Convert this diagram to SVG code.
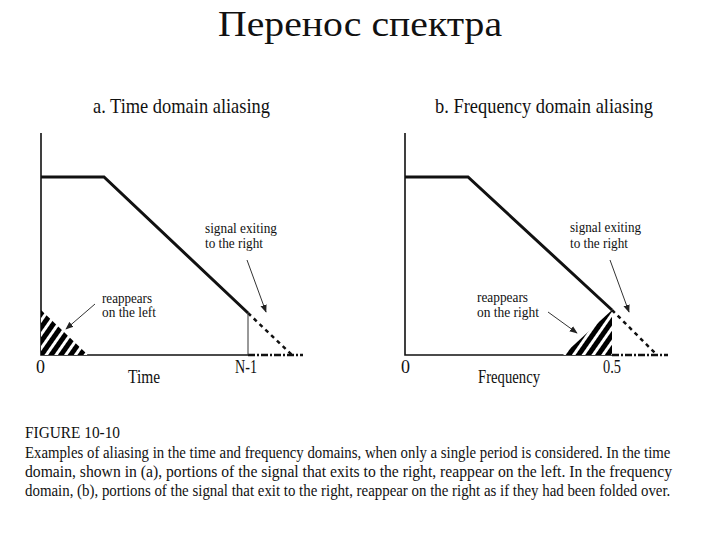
<svg xmlns="http://www.w3.org/2000/svg" width="720" height="540" viewBox="0 0 720 540">
<defs>
<style>
text{font-family:"Liberation Serif","Times New Roman",serif;fill:#111}
.title{font-size:36px}
.ptitle{font-size:22px}
.lbl{font-size:18px}
.ann{font-size:14px}
.cap{font-size:17px}
.axis{stroke:#111;stroke-width:1.6;fill:none}
.sig{stroke:#111;stroke-width:3;fill:none}
.dash{stroke:#111;stroke-width:2.5;stroke-dasharray:4 4;fill:none}
.dot{stroke:#111;stroke-width:2.5;stroke-dasharray:7 2 2 2;fill:none}
.thin{stroke:#333;stroke-width:1;fill:none}
.arr{stroke:#333;stroke-width:1;fill:none;marker-end:url(#ah)}
.hatch{fill:url(#stripes)}
</style>
<pattern id="stripes" patternUnits="userSpaceOnUse" width="8" height="8" patternTransform="rotate(35)">
<rect width="8" height="8" fill="#000"/>
<rect x="0" width="3" height="8" fill="#fff"/>
</pattern>
<marker id="ah" viewBox="0 0 10 10" refX="9" refY="5" markerWidth="8" markerHeight="8" orient="auto" markerUnits="userSpaceOnUse">
<path d="M0,1 L10,5 L0,9 Z" fill="#222"/>
</marker>
</defs>
<rect width="720" height="540" fill="#fff"/>
<text class="title" x="360" y="36" text-anchor="middle" textLength="284" lengthAdjust="spacingAndGlyphs">Перенос спектра</text>

<g id="panel-a">
<text class="ptitle" x="93" y="113" textLength="177" lengthAdjust="spacingAndGlyphs">a. Time domain aliasing</text>
<path class="axis" d="M41,133 V355 H248"/>
<path class="dot" d="M248,355 H303"/>
<polygon class="hatch" points="41,310 41,355 88,355"/>
<path class="sig" d="M41,177 H104 L248,313"/>
<path class="dash" d="M248,313 L292,355"/>
<path class="thin" d="M248,313 V355"/>
<text class="lbl" x="36" y="373" textLength="9" lengthAdjust="spacingAndGlyphs">0</text>
<text class="lbl" x="128" y="383" textLength="32" lengthAdjust="spacingAndGlyphs">Time</text>
<text class="lbl" x="235" y="373" textLength="22" lengthAdjust="spacingAndGlyphs">N-1</text>
</g>
<g id="label-a-exit">
<text class="ann" x="205" y="233" textLength="72" lengthAdjust="spacingAndGlyphs">signal exiting</text>
<text class="ann" x="205" y="248" textLength="58" lengthAdjust="spacingAndGlyphs">to the right</text>
</g>
<g id="label-a-reappear">
<text class="ann" x="102" y="303" textLength="50" lengthAdjust="spacingAndGlyphs">reappears</text>
<text class="ann" x="102" y="317" textLength="54" lengthAdjust="spacingAndGlyphs">on the left</text>
</g>

<g id="panel-b">
<text class="ptitle" x="435" y="113" textLength="218" lengthAdjust="spacingAndGlyphs">b. Frequency domain aliasing</text>
<path class="axis" d="M405,133 V355 H612"/>
<path class="dot" d="M612,355 H668"/>
<polygon class="hatch" points="612,310 612,355 563,355"/>
<path class="sig" d="M405,177 H468 L612,310"/>
<path class="dash" d="M612,310 L657,355"/>
<text class="lbl" x="401" y="373" textLength="9" lengthAdjust="spacingAndGlyphs">0</text>
<text class="lbl" x="478" y="383" textLength="62" lengthAdjust="spacingAndGlyphs">Frequency</text>
<text class="lbl" x="603" y="373" textLength="18" lengthAdjust="spacingAndGlyphs">0.5</text>
</g>
<g id="label-b-exit">
<text class="ann" x="570" y="232" textLength="71" lengthAdjust="spacingAndGlyphs">signal exiting</text>
<text class="ann" x="570" y="248" textLength="58" lengthAdjust="spacingAndGlyphs">to the right</text>
</g>
<g id="label-b-reappear">
<text class="ann" x="477" y="302" textLength="51" lengthAdjust="spacingAndGlyphs">reappears</text>
<text class="ann" x="477" y="317" textLength="62" lengthAdjust="spacingAndGlyphs">on the right</text>
</g>

<g id="connectors">
<line class="arr" x1="95" y1="304" x2="66" y2="329"/>
<line class="arr" x1="247" y1="260" x2="266" y2="312"/>
<line class="arr" x1="548" y1="312" x2="577" y2="333"/>
<line class="arr" x1="610" y1="260" x2="629" y2="312"/>
</g>

<g id="caption">
<text class="cap" x="25" y="438" textLength="95" lengthAdjust="spacingAndGlyphs">FIGURE 10-10</text>
<text class="cap" transform="translate(25,458) scale(0.82,1)" x="0" y="0" textLength="787" lengthAdjust="spacingAndGlyphs">Examples of aliasing in the time and frequency domains, when only a single period is considered.  In the time</text>
<text class="cap" transform="translate(25,477) scale(0.82,1)" x="0" y="0" textLength="789" lengthAdjust="spacingAndGlyphs">domain, shown in (a), portions of the signal that exits to the right, reappear on the left.   In the frequency</text>
<text class="cap" transform="translate(25,496) scale(0.82,1)" x="0" y="0" textLength="787" lengthAdjust="spacingAndGlyphs">domain, (b), portions of the signal that exit to the right, reappear on the right as if they had been folded over.</text>
</g>
</svg>
